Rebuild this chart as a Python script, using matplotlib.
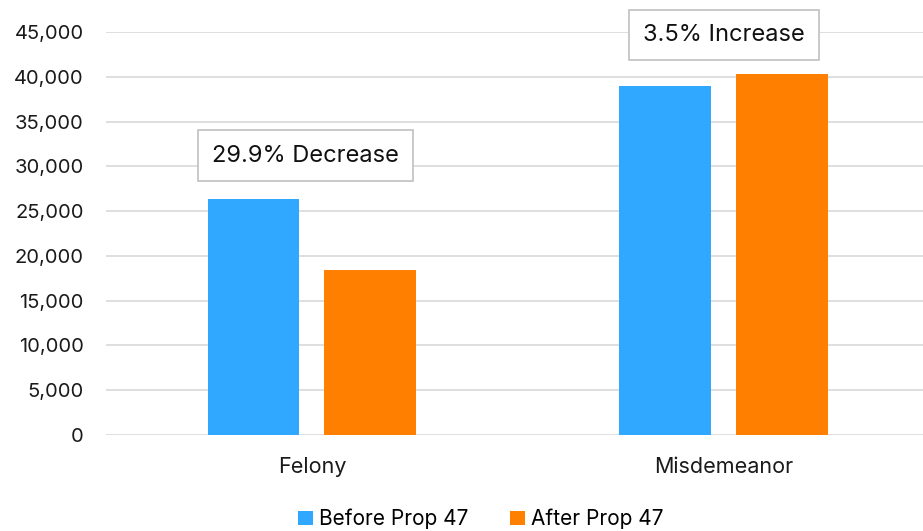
import matplotlib
matplotlib.use("Agg")
import matplotlib.pyplot as plt
import numpy as np

categories = ["Felony", "Misdemeanor"]
before_prop47 = [26330, 38960]
after_prop47 = [18460, 40340]
change_labels = ["29.9% Decrease", "3.5% Increase"]
y_ticks = [0, 5000, 10000, 15000, 20000, 25000, 30000, 35000, 40000, 45000]

BLUE = "#31a8ff"
ORANGE = "#ff8000"
FONT = "Inter"

plt.rcParams["font.family"] = [FONT, "DejaVu Sans"]

W, H = 923, 531
fig = plt.figure(figsize=(W / 100, H / 100), dpi=100)
left, right, top, bottom = 106, 923, 32, 435
ax = fig.add_axes([left / W, 1 - bottom / H, (right - left) / W, (bottom - top) / H])

x = np.arange(len(categories))
width = 0.223
offset = 0.142
ax.bar(x - offset, before_prop47, width, color=BLUE, label="Before Prop 47", zorder=3)
ax.bar(x + offset, after_prop47, width, color=ORANGE, label="After Prop 47", zorder=3)

ax.set_xlim(-0.5, 1.484)
ax.set_ylim(0, 45000)
ax.set_yticks(y_ticks)
ax.set_yticklabels([f"{v:,}" for v in y_ticks], fontsize=14.5, color="#1a1a1a")
ax.set_xticks(x)
ax.set_xticklabels(categories, fontsize=15.5, color="#1a1a1a")
ax.tick_params(axis="both", length=0)
ax.tick_params(axis="y", pad=16)
ax.tick_params(axis="x", pad=16)
ax.grid(axis="y", color="#d9d9d9", linewidth=1.2, zorder=0)
for s in ax.spines.values():
    s.set_visible(False)

# change annotations above each group
label_x = [-0.015, 1.0]
label_y = [31200, 44700]
for xi, yi, txt in zip(label_x, label_y, change_labels):
    ax.text(xi, yi, txt, ha="center", va="center", fontsize=17, color="#111111",
            bbox=dict(boxstyle="square,pad=0.6", facecolor="white", edgecolor="#c0c0c0",
                      linewidth=1.2), zorder=5, clip_on=False)

leg = fig.legend(loc="center", bbox_to_anchor=(481 / W, 1 - 519 / H), ncol=2,
                 frameon=False, fontsize=15, handlelength=0.7, handleheight=0.7,
                 handletextpad=0.3, columnspacing=2.0)

fig.savefig("out.png", dpi=100, facecolor="white")
